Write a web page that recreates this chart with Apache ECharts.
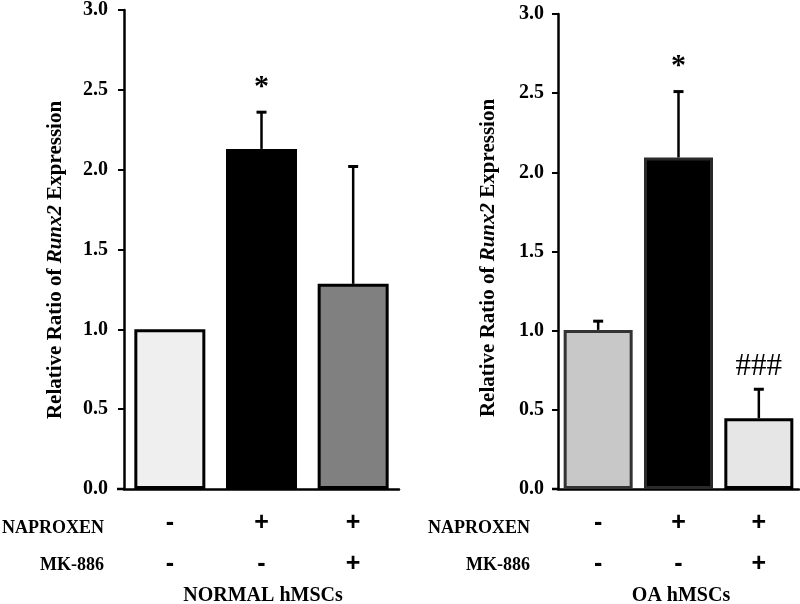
<!DOCTYPE html>
<html>
<head>
<meta charset="utf-8">
<script src="https://cdn.jsdelivr.net/npm/echarts@6/dist/echarts.min.js"></script>
<style>html,body{margin:0;padding:0;background:#fff}#c{width:800px;height:604px}</style>
</head>
<body>
<div id="c"></div>
<script>
// ---- data ----
const categories = ['Control', 'Naproxen', 'Naproxen + MK-886'];
const naproxenRow = ['-', '+', '+'];
const mk886Row = ['-', '-', '+'];
const yTicks = [0, 0.5, 1.0, 1.5, 2.0, 2.5, 3.0];

const normalMean = [1.0, 2.13, 1.285];
const normalSD = [0.0, 0.23, 0.735];
const normalMarks = ['', '*', ''];

const oaMean = [1.005, 2.094, 0.447];
const oaSD = [0.055, 0.416, 0.183];
const oaMarks = ['', '*', '###'];

const panelTitles = ['NORMAL hMSCs', 'OA hMSCs'];
const rowLabels = ['NAPROXEN', 'MK-886'];

// ---- styles ----
const FONT = 'Liberation Serif, Times New Roman, serif';
const SANS = 'Liberation Sans, Arial, sans-serif';
const normalColors = [
  {color: '#efefef', borderColor: '#000', borderWidth: 3},
  {color: '#000', borderColor: '#000', borderWidth: 3},
  {color: '#808080', borderColor: '#000', borderWidth: 3}
];
const oaColors = [
  {color: '#c8c8c8', borderColor: '#333', borderWidth: 3},
  {color: '#000', borderColor: '#2a2a2a', borderWidth: 3},
  {color: '#e6e6e6', borderColor: '#000', borderWidth: 3}
];

const chart = echarts.init(document.getElementById('c'));

function makeAxes(gridIndex) {
  return {
    x: {
      type: 'category', gridIndex, data: categories,
      axisLine: {lineStyle: {color: '#000', width: 2.5}},
      axisTick: {show: false},
      axisLabel: {
        margin: 14, lineHeight: 41, color: '#000',
        fontFamily: SANS, fontWeight: 900, fontSize: 25,
        formatter: (v, i) => naproxenRow[i] + '\n' + mk886Row[i]
      }
    },
    y: {
      type: 'value', gridIndex, min: 0, max: 3, interval: 0.5,
      splitLine: {show: false},
      axisLine: {show: true, lineStyle: {color: '#000', width: 2.5}},
      axisTick: {show: true, length: 6, lineStyle: {color: '#000', width: 2}},
      axisLabel: {
        margin: gridIndex === 0 ? 16 : 14, fontFamily: FONT, fontWeight: 'bold', fontSize: 20, color: '#000',
        formatter: v => v.toFixed(1)
      }
    }
  };
}
const a0 = makeAxes(0), a1 = makeAxes(1);

function errSeries(idx, mean, sd, marks) {
  return {
    type: 'custom', xAxisIndex: idx, yAxisIndex: idx, z: 5,
    data: mean.map((m, i) => [i, m, m + sd[i]]),
    renderItem: (params, api) => {
      const base = api.coord([api.value(0), api.value(1)]);
      const top = api.coord([api.value(0), api.value(2)]);
      const children = [];
      if (api.value(2) > api.value(1)) {
        children.push({type: 'line', shape: {x1: base[0], y1: base[1], x2: top[0], y2: top[1]}, style: {stroke: '#000', lineWidth: 2.5}});
        children.push({type: 'line', shape: {x1: top[0] - 5, y1: top[1], x2: top[0] + 5, y2: top[1]}, style: {stroke: '#000', lineWidth: 3}});
      }
      const mk = marks[params.dataIndex];
      if (mk) {
        const isStar = mk === '*';
        children.push({type: 'text', style: {
          text: mk, x: top[0], y: top[1] - (isStar ? 25 : 22),
          align: 'center', verticalAlign: 'middle',
          font: (isStar ? 'bold 30px ' : 'normal 31px ') + FONT, fill: '#000'
        }});
      }
      return {type: 'group', children};
    }
  };
}

function barSeries(idx, mean, styles, width) {
  return {
    type: 'bar', xAxisIndex: idx, yAxisIndex: idx, barWidth: width,
    data: mean.map((v, i) => ({value: v, itemStyle: styles[i]}))
  };
}

function yName(x, y) {
  return {
    type: 'text', x, y, rotation: Math.PI / 2,
    style: {
      text: 'Relative Ratio of {i|Runx2} Expression',
      font: 'bold 21px ' + FONT, fill: '#000', align: 'center', verticalAlign: 'middle',
      rich: {i: {fontStyle: 'italic', fontWeight: 'bold', fontSize: 21, fontFamily: FONT, fill: '#000'}}
    }
  };
}
function txt(text, x, y, align, size) {
  return {type: 'text', x, y, style: {text, font: 'bold ' + size + 'px ' + FONT, fill: '#000', align, verticalAlign: 'middle'}};
}

chart.setOption({
  animation: false,
  grid: [
    {left: 124, top: 5, width: 275, height: 484},
    {left: 558, top: 14, width: 241, height: 475}
  ],
  xAxis: [a0.x, a1.x],
  yAxis: [a0.y, a1.y],
  series: [
    barSeries(0, normalMean, normalColors, 71),
    errSeries(0, normalMean, normalSD, normalMarks),
    barSeries(1, oaMean, oaColors, 69),
    errSeries(1, oaMean, oaSD, oaMarks)
  ],
  graphic: [
    {type: 'line', shape: {x1: 117, y1: 489, x2: 124, y2: 489}, style: {stroke: '#000', lineWidth: 2.5}},
    {type: 'line', shape: {x1: 552, y1: 489, x2: 558, y2: 489}, style: {stroke: '#000', lineWidth: 2.5}},
    yName(56, 260),
    yName(489, 258),
    txt(rowLabels[0], 104, 528, 'right', 18),
    txt(rowLabels[1], 104, 565, 'right', 18),
    txt(rowLabels[0], 530, 528, 'right', 18),
    txt(rowLabels[1], 530, 565, 'right', 18),
    txt(panelTitles[0], 263, 596, 'center', 20),
    txt(panelTitles[1], 681, 596, 'center', 20)
  ]
});
</script>
</body>
</html>
